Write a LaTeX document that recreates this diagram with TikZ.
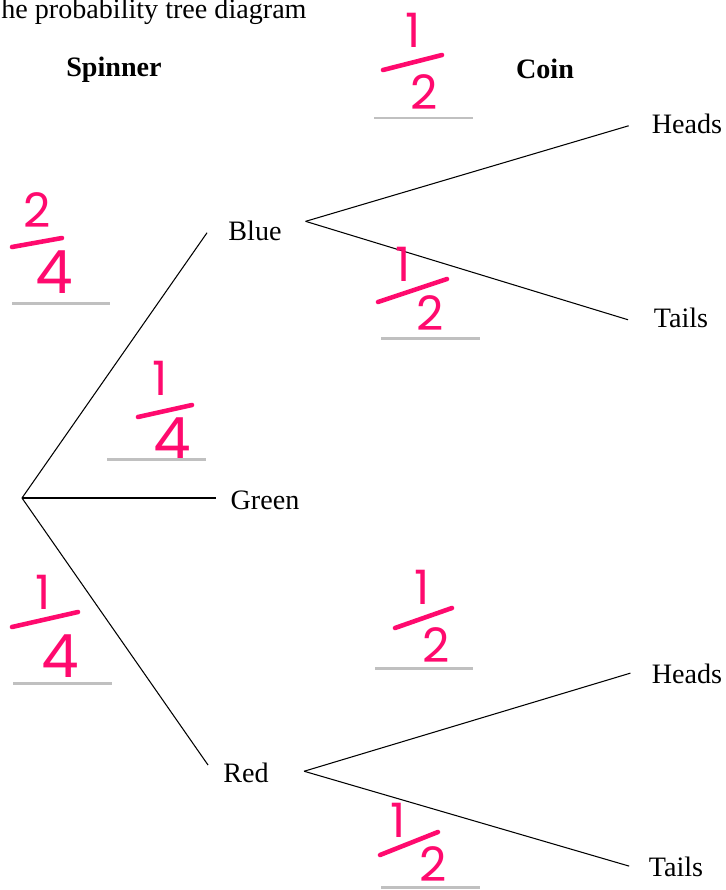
\documentclass[tikz,border=0pt]{standalone}
\usepackage{fontspec}
\setmainfont{Liberation Serif}
\newfontfamily\handfont{Poppins}
\usetikzlibrary{positioning}
\definecolor{ink}{HTML}{FF0A6E}
\definecolor{blankgray}{HTML}{C0C0C0}
\tikzset{
	outcome/.style={inner sep=0pt, font=\fontsize{16}{19}\selectfont},
	colhead/.style={inner sep=0pt, font=\fontsize{16}{19}\selectfont\bfseries},
	digit/.style={inner sep=0pt, text=ink, font=\fontsize{27}{30}\selectfont\handfont},
	bigdigit/.style={digit, font=\fontsize{34}{37}\selectfont\handfont},
	% hand drawn fraction bar and the answer blank under it
	fracbar/.style={draw=ink, line width=2.6pt, line cap=round},
	blank/.style={draw=blankgray, line width=1.7pt},
}

\begin{document}
\begin{tikzpicture}[x=0.02cm, y=-0.02cm]
		\useasboundingbox (0,0) rectangle (725,890);
		
		\node (title) [outcome, anchor=base west] at (1,18) {he probability tree diagram};
		\node (spinner) [colhead] at (114,70) {Spinner};
		\node (coin) [colhead] at (545,69) {Coin};
		
		\coordinate (root) at (22,498);
		\node (blue) [outcome] at (255,231) {Blue};
		\node (green) [outcome] at (265,500) {Green};
		\node (red) [outcome] at (246,773) {Red};
		
		\node (heads1) [outcome] at (687,124) {Heads};
		\node (tails1) [outcome] at (681,318) {Tails};
		\node (heads2) [outcome] at (687,674) {Heads};
		\node (tails2) [outcome] at (676,867) {Tails};
		
		\begin{scope}[black, line width=0.6pt]
			\draw (root) -- ([xshift=-12pt, yshift=-1pt]blue.west);
			\draw (root) -- ([xshift=-8pt]green.west |- root);
			\draw (root) -- ([xshift=-8.5pt, yshift=4.5pt]red.west);
			
			\draw ([xshift=13.5pt, yshift=5.5pt]blue.east) -- ([xshift=-13pt, yshift=-1pt]heads1.west);
			\draw ([xshift=13.5pt, yshift=5.5pt]blue.east) -- ([xshift=-14.5pt, yshift=-1pt]tails1.west);
			\draw ([xshift=20pt, yshift=1pt]red.east) -- ([xshift=-12pt, yshift=0.5pt]heads2.west);
			\draw ([xshift=20pt, yshift=1pt]red.east) -- ([xshift=-11pt, yshift=0.5pt]tails2.west);
		\end{scope}
		
		% written answers
		\node (n1) [digit] at (413,30) {1};
		\node (d1) [digit] at (424,92) {2};
		\draw [fracbar] (383,70) -- (442,55);
		\draw [blank] (374,118) -- (473,118);
		
		\node (n2) [digit] at (37,210) {2};
		\node (d2) [bigdigit] at (54,272) {4};
		\draw [fracbar] (12,247) -- (62,238);
		\draw [blank] (12,303) -- (110,303);
		
		\node (n3) [digit] at (403,264) {1};
		\node (d3) [digit] at (430,313) {2};
		\draw [fracbar] (378,302) -- (447,279);
		\draw [blank] (381,338) -- (480,338);
		
		\node (n4) [digit] at (160,378) {1};
		\node (d4) [bigdigit] at (172,439) {4};
		\draw [fracbar] (138,417) -- (192,405);
		\draw [blank] (107,459) -- (206,459);
		
		\node (n5) [digit] at (43,592) {1};
		\node (d5) [bigdigit] at (60,656) {4};
		\draw [fracbar] (12,627) -- (78,612);
		\draw [blank] (13,683) -- (112,683);
		
		\node (n6) [digit] at (422,587) {1};
		\node (d6) [digit] at (436,645) {2};
		\draw [fracbar] (395,628) -- (452,608);
		\draw [blank] (375,668) -- (473,668);
		
		\node (n7) [digit] at (398,820) {1};
		\node (d7) [digit] at (433,864) {2};
		\draw [fracbar] (380,855) -- (438,832);
		\draw [blank] (381,887) -- (480,887);
	\end{tikzpicture}
\end{document}
